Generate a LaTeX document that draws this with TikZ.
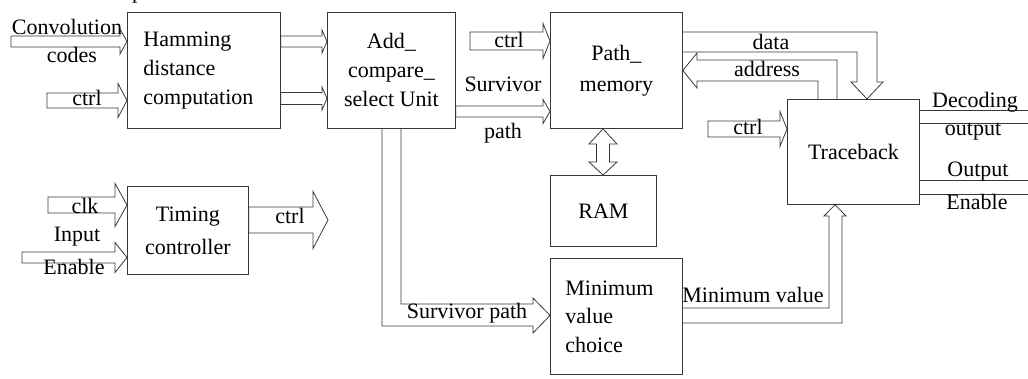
\documentclass[tikz,border=0pt]{standalone}
\usepackage{fontspec}
\setmainfont{Liberation Serif}
\usetikzlibrary{calc}
\definecolor{ink}{gray}{0.22}
\newcommand\fs{\fontsize{22}{29}\selectfont}
\tikzset{
  box/.style={draw=ink, line width=0.8pt, inner sep=0pt, anchor=north west, font=\fs},
  blk/.style={draw=ink, line width=0.8pt, line join=miter},
  lbl/.style={inner sep=0pt, font=\fs},
}
% straight hollow arrow pointing right: tail, tip, half shaft, half head, head length (pt)
\newcommand\rarrow[5]{%
  \draw[blk] let \p1=(#1), \p2=(#2) in
    (\x1,\y2+#3pt) -- (\x2-#5pt,\y2+#3pt) -- (\x2-#5pt,\y2+#4pt) -- (\x2,\y2)
    -- (\x2-#5pt,\y2-#4pt) -- (\x2-#5pt,\y2-#3pt) -- (\x1,\y2-#3pt) -- cycle;}
\begin{document}
\begin{tikzpicture}[x=1pt,y=-1pt]
\useasboundingbox (0,0) rectangle (1028,379);

% last line of the preceding paragraph, cut by the page edge
\begin{scope}
  \clip (0,0) rectangle (1028,379);
  \node[lbl, anchor=base east] (cap) at (183,-1) {detailed description.};
\end{scope}

% blocks
\node[box, minimum width=153pt, minimum height=116pt, text width=121pt, align=left] (ham) at (127,12) {Hamming\\distance\\computation};
\node[box, minimum width=128pt, minimum height=116pt, align=center] (acs) at (327,12) {Add\_\\compare\_\\select Unit};
\node[box, minimum width=132pt, minimum height=116pt, align=center, font=\fontsize{22}{31}\selectfont] (pm) at (550,12) {Path\_\\memory};
\node[box, minimum width=106pt, minimum height=71pt] (ram) at (550,175) {RAM};
\node[box, minimum width=132pt, minimum height=116pt, text width=102pt, align=left, font=\fontsize{22}{28.5}\selectfont] (mvc) at (550,258) {Minimum\\value\\choice};
\node[box, minimum width=132pt, minimum height=105pt] (tb) at (787,99) {Traceback};
\node[box, minimum width=121pt, minimum height=88pt, align=center, font=\fontsize{22}{33}\selectfont] (tc) at (127,186) {Timing\\controller};

% arrow tails and free ends
\coordinate (convIn) at (11,41.5);
\coordinate (hamCtrl) at (47,100.5);
\coordinate (busA) at (0,41.5);
\coordinate (busB) at (0,98.5);
\coordinate (pmCtrl) at (470,41);
\coordinate (survRow) at (0,111.5);
\coordinate (tbCtrl) at (708,129);
\coordinate (clkIn) at (48,205);
\coordinate (enIn) at (22,257.5);
\coordinate (tcOutRow) at (0,220);
\coordinate (tcOut) at (328,220);
\coordinate (decA) at (1028,110);
\coordinate (decB) at (1028,123);
\coordinate (oenA) at (1028,180);
\coordinate (oenB) at (1028,194);

% straight buses
\rarrow{convIn}{ham.west |- convIn}{5.5}{12.5}{7}
\rarrow{hamCtrl}{ham.west |- hamCtrl}{7.5}{17}{9}
\rarrow{ham.east |- busA}{acs.west |- busA}{5.5}{11.5}{5}
\rarrow{ham.east |- busB}{acs.west |- busB}{6}{11.5}{5}
\rarrow{pmCtrl}{pm.west |- pmCtrl}{9}{17.5}{7}
\rarrow{acs.east |- survRow}{pm.west |- survRow}{5.5}{12}{7}
\rarrow{tbCtrl}{tb.west |- tbCtrl}{8}{17.5}{7}
\rarrow{clkIn}{tc.west |- clkIn}{8}{21.5}{12}
\rarrow{enIn}{tc.west |- enIn}{5.5}{15}{12}
\rarrow{tc.east |- tcOutRow}{tcOut}{13}{28.5}{15}

% Path_memory <-> RAM
\draw[blk] (pm.south -| 603,0) -- (617,144) -- (609.5,144) -- (609.5,162) -- (617,162)
  -- (ram.north -| 603,0) -- (589,162) -- (596.5,162) -- (596.5,144) -- (589,144) -- cycle;

% data: Path_memory -> Traceback
\draw[blk] (pm.east |- 0,32) -- (877,32) -- (877,82) -- (883,82) -- (tb.north -| 867,0)
  -- (851,82) -- (857,82) -- (857,52) -- (pm.east |- 0,52);

% address: Traceback -> Path_memory
\draw[blk] (tb.north -| 818,0) -- (818,81) -- (697,81) -- (697,88) -- (pm.east |- 0,70.5)
  -- (697,53) -- (697,60) -- (837,60) -- (tb.north -| 837,0);

% survivor path: Add_compare_select -> Minimum value choice
\draw[blk] (acs.south -| 401,0) -- (401,304) -- (533,304) -- (533,298) -- (mvc.west |- 0,315.5)
  -- (533,333) -- (533,326) -- (382,326) -- (acs.south -| 382,0);

% minimum value: Minimum value choice -> Traceback
\draw[blk] (mvc.east |- 0,308) -- (829,308) -- (829,216) -- (824,216) -- (tb.south -| 835,0)
  -- (846,216) -- (842,216) -- (842,323) -- (mvc.east |- 0,323);

% outputs
\draw[blk] (tb.east |- decA) -- (decA);
\draw[blk] (tb.east |- decB) -- (decB);
\draw[blk] (tb.east |- oenA) -- (oenA);
\draw[blk] (tb.east |- oenB) -- (oenB);

% labels
\node[lbl] (lConv) at (67,27) {Convolution};
\node[lbl] (lCodes) at (72,55) {codes};
\node[lbl] (lHc) at (87,98) {ctrl};
\node[lbl] (lPc) at (509,40) {ctrl};
\node[lbl] (lSurv) at (503,84) {Survivor};
\node[lbl] (lPath) at (503,133) {path};
\node[lbl] (lData) at (771,42) {data};
\node[lbl] (lAddr) at (767,69) {address};
\node[lbl] (lTc) at (748,127) {ctrl};
\node[lbl] (lDec) at (975,102) {Decoding};
\node[lbl] (lOut) at (973,132) {output};
\node[lbl] (lOut2) at (978,172) {Output};
\node[lbl] (lEn2) at (977,202) {Enable};
\node[lbl] (lMin) at (753,295) {Minimum value};
\node[lbl] (lSp) at (467,313) {Survivor path};
\node[lbl] (lClk) at (85,206) {clk};
\node[lbl] (lIn) at (77,237) {Input};
\node[lbl] (lEn) at (74,267) {Enable};
\node[lbl] (lCo) at (290,216) {ctrl};
\end{tikzpicture}
\end{document}
